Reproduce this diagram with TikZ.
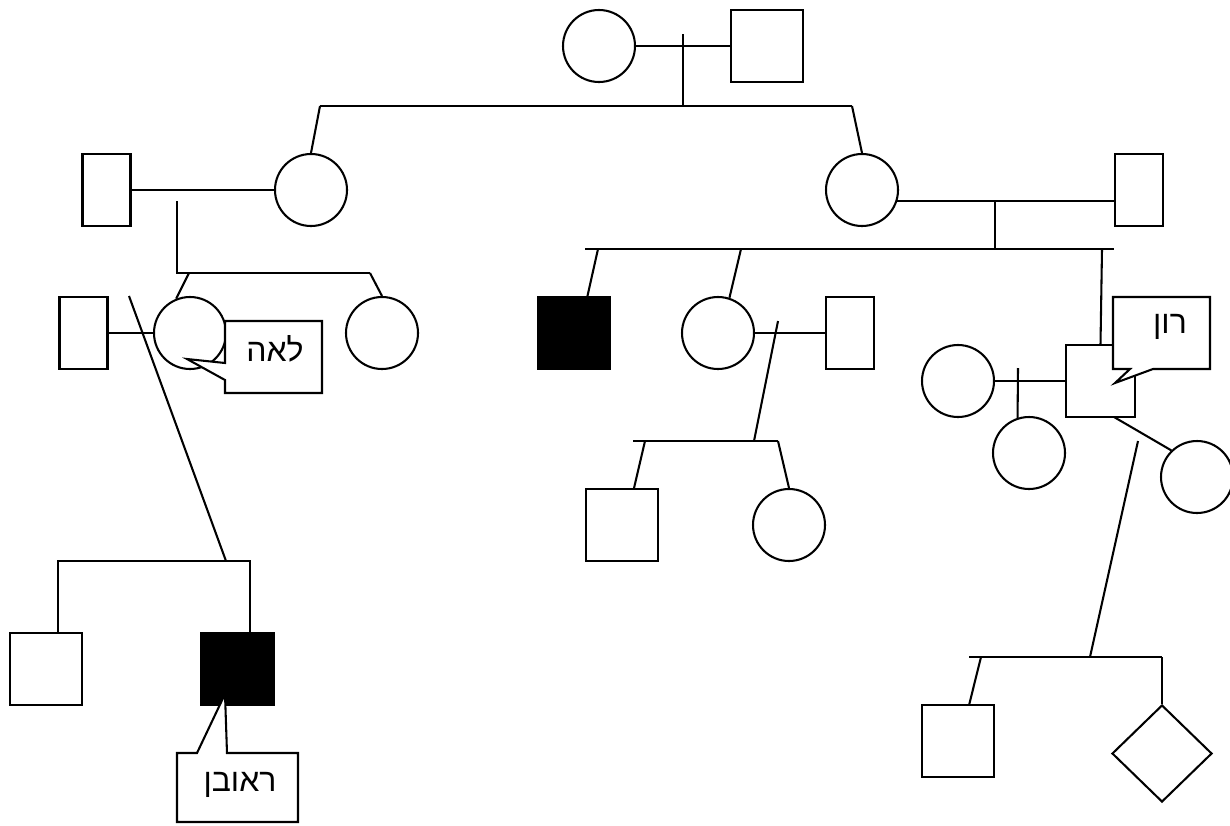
\documentclass[tikz,border=0pt]{standalone}
\usepackage{fontspec}
\TeXXeTstate=1
\newfontfamily\hebfont[Script=Hebrew]{Liberation Sans}
\usetikzlibrary{shapes.geometric}
\tikzset{
  fem/.style={circle, draw, minimum size=54pt, inner sep=0pt},
  sq/.style={rectangle, draw, minimum width=54pt, minimum height=54pt, inner sep=0pt},
  tallbox/.style={rectangle, draw, minimum width=36pt, minimum height=54pt, inner sep=0pt},
  ronbox/.style={rectangle, draw, minimum width=51.75pt, minimum height=54pt, inner sep=0pt},
  affected/.style={sq, fill=black},
  unknownsex/.style={diamond, draw, minimum width=75pt, minimum height=72.75pt, inner sep=0pt},
  callout/.style={draw, fill=white},
  heblabel/.style={font=\hebfont\fontsize{24}{26}\selectfont, inner sep=0pt}
}
\begin{document}
\begin{tikzpicture}[x=0.75pt, y=-0.75pt, line width=1.55pt, line join=miter]
\useasboundingbox (0,0) rectangle (1230,825);
% generation 1
\node[fem] (g1f) at (599,46) {};
\node[sq] (g1m) at (767,46) {};
\draw (g1f) -- (g1m);
\coordinate (g1t) at (683,34);
\coordinate (g1b) at (683,106);
\draw (g1t) -- (g1b);
\coordinate (s1l) at (320,106);
\coordinate (s1r) at (852,106);
\draw (s1l) -- (s1r);
% generation 2
\node[fem] (g2a) at (311,190) {};
\node[fem] (g2b) at (862,190) {};
\draw (s1l) -- (g2a.north);
\draw (s1r) -- (g2b.north);
% left couple
\node[tallbox] (g2am) at (106.5,190) {};
\draw (g2am) -- (g2a);
\coordinate (v2a) at (177,201);
\coordinate (s2a) at (177,273);
\coordinate (s2ar) at (370,273);
\draw (v2a) -- (s2a) -- (s2ar);
\node[fem] (leah) at (190,333) {};
\node[fem] (g3b) at (382,333) {};
\coordinate (s2a1) at (189,273);
\draw (s2a1) -- (leah.112);
\draw (s2ar) -- (g3b.north);
\node[tallbox] (leahm) at (83.5,333) {};
\draw (leahm) -- (leah);
\coordinate (d3t) at (129,296);
\coordinate (d3b) at (226,561);
\draw (d3t) -- (d3b);
% generation 4 left
\coordinate (s4l) at (58,561);
\coordinate (s4r) at (250,561);
\node[sq] (g4a) at (46,669) {};
\node[affected] (reuven) at (237.5,669) {};
\draw (s4l |- g4a.north) -- (s4l) -- (s4r) -- (s4r |- reuven.north);
% right couple
\node[tallbox] (g2bm) at (1139,190) {};
\draw (g2b.-18) -- (g2b.-18 -| g2bm.west);
\coordinate (v2b) at (995,201);
\coordinate (s2b) at (995,249);
\draw (v2b) -- (s2b);
\coordinate (s2bl) at (585,249);
\coordinate (s2br) at (1114,249);
\draw (s2bl) -- (s2br);
\node[affected] (g3c) at (574,333) {};
\coordinate (s2b1) at (598,249);
\draw (s2b1) -- (g3c.70);
\node[fem] (g3d) at (718,333) {};
\coordinate (s2b2) at (741,249);
\draw (s2b2) -- (g3d.72);
\node[ronbox] (ron) at (1100.5,381) {};
\coordinate (s2b3) at (1102,249);
\draw (s2b3) -- (ron.north);
% g3d family
\node[tallbox] (g3dm) at (850,333) {};
\draw (g3d) -- (g3dm);
\coordinate (d3dt) at (778,321);
\coordinate (d3db) at (754,441);
\draw (d3dt) -- (d3db);
\coordinate (s3dl) at (633,441);
\coordinate (s3dr) at (778,441);
\draw (s3dl) -- (s3dr);
\node[sq] (g4c) at (622,525) {};
\node[fem] (g4d) at (789,525) {};
\coordinate (s3d1) at (645,441);
\draw (s3d1) -- (g4c.72);
\draw (s3dr) -- (g4d.north);
% Ron family
\node[fem] (ronw) at (958,381) {};
\draw (ronw) -- (ron);
\node[fem] (g4e) at (1029,453) {};
\node[fem] (g4f) at (1197,477) {};
\coordinate (v3r) at (1018,368);
\draw (v3r) -- (g4e.108);
\coordinate (ronb) at (1114,417);
\draw (ronb) -- (g4f.134);
\coordinate (d4t) at (1138,441);
\coordinate (d4b) at (1090,657);
\draw (d4t) -- (d4b);
\coordinate (s4el) at (969,657);
\coordinate (s4er) at (1162,657);
\draw (s4el) -- (s4er);
\node[sq] (g5a) at (958,741) {};
\node[unknownsex] (g5b) at (1162,753.5) {};
\coordinate (s4e1) at (981,657);
\draw (s4e1) -- (g5a.73);
\draw (s4er) -- (g5b.north);
% callouts
\draw[callout] (225,321) -- (225,363) -- (187,359) -- (225,380) -- (225,393) -- (322,393) -- (322,321) -- cycle;
\node[heblabel] (leahtxt) at (275,349) {\beginR לאה\endR};
\draw[callout] (1113,297) -- (1210,297) -- (1210,369) -- (1153,369) -- (1115,383) -- (1130,369) -- (1113,369) -- cycle;
\node[heblabel] (rontxt) at (1170,327) {\beginR רון\endR};
\draw[callout] (177,753) -- (197,753) -- (225,694) -- (227,753) -- (298,753) -- (298,822) -- (177,822) -- cycle;
\node[heblabel] (reuventxt) at (240,785) {\beginR ראובן\endR};
\end{tikzpicture}
\end{document}
